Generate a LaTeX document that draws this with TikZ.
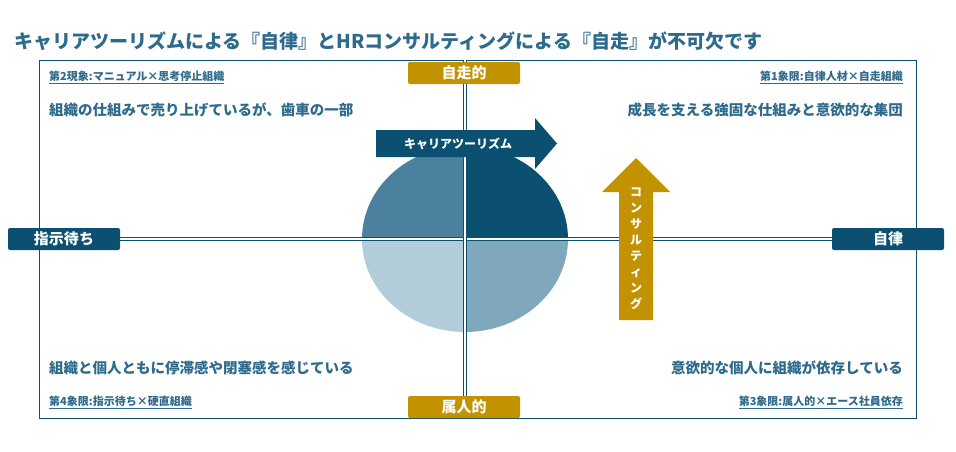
\documentclass[tikz,border=0pt]{standalone}
\usepackage{fontspec}
\setmainfont{Noto Sans CJK JP}
\newfontfamily\jpbold{Noto Sans CJK JP}[BoldFont=*, FakeBold=1.5]
\definecolor{navy}{HTML}{0B5070}
\definecolor{txtblue}{HTML}{2E6A8C}
\definecolor{gold}{HTML}{C39200}
\definecolor{qtl}{HTML}{4B819F}
\definecolor{qbl}{HTML}{B3CCD9}
\definecolor{qbr}{HTML}{7FA8BC}
\tikzset{
  axislabel/.style={rounded corners=2pt, minimum height=22pt, minimum width=112pt, text=white, font=\fontsize{15}{15}\selectfont\bfseries, inner sep=0pt},
  corner/.style={font=\fontsize{11}{11}\selectfont\bfseries, text=txtblue, inner sep=0pt},
  claim/.style={font=\fontsize{14.5}{14.5}\selectfont\bfseries, text=txtblue, inner sep=0pt},
}
\begin{document}
\begin{tikzpicture}[x=1pt,y=-1pt]
  \useasboundingbox (0,0) rectangle (956,451);
  % title
  \node[anchor=west, inner sep=0pt, text=txtblue, font=\fontsize{19}{19}\selectfont\bfseries] (title) at (14,41)
    {キャリアツーリズムによる『自律』とHRコンサルティングによる『自走』が不可欠です};
  % frame
  \draw[navy, line width=1pt] (39,60) rectangle (916,418);
  % ellipse quadrants
  \coordinate (c) at (465,239);
  \begin{scope}
    \clip (c) ellipse [x radius=103, y radius=93];
    \fill[qtl] (c) rectangle (360,140);
    \fill[navy] (c) rectangle (570,140);
    \fill[qbl] (c) rectangle (360,340);
    \fill[qbr] (c) rectangle (570,340);
  \end{scope}
  % axes (double lines)
  \draw[navy, line width=3.6pt] (39,239) -- (916,239);
  \draw[white, line width=1.6pt] (39,239) -- (916,239);
  \draw[navy, line width=3.6pt] (465,60) -- (465,418);
  \draw[white, line width=1.6pt] (465,60) -- (465,418);
  % axis labels
  \node[axislabel, fill=gold] (top) at (464,73) {自走的};
  \node[axislabel, fill=gold] (bottom) at (464,407) {属人的};
  \node[axislabel, fill=navy] (left) at (64,239) {指示待ち};
  \node[axislabel, fill=navy] (right) at (888,239) {自律};
  % career arrow
  \fill[navy] (376,130) -- (535,130) -- (535,118) -- (557,143.5) -- (535,169) -- (535,157) -- (376,157) -- cycle;
  \node[text=white, font=\fontsize{12}{12}\selectfont\bfseries] (career) at (458,143.5) {キャリアツーリズム};
  % consulting arrow
  \fill[gold] (619,320) -- (619,192) -- (602,192) -- (636,158) -- (670,192) -- (653,192) -- (653,320) -- cycle;
  \node[text=white, font=\fontsize{12}{16}\selectfont\bfseries, align=center] (consult) at (636,249)
    {コ\\ン\\サ\\ル\\テ\\ィ\\ン\\グ};
  % corner labels
  \node[corner, anchor=west] (q2) at (49,77) {\underline{第2現象:マニュアル×思考停止組織}};
  \node[corner, anchor=east] (q1) at (903,77) {\underline{第1象限:自律人材×自走組織}};
  \node[corner, anchor=west] (q4) at (49,402) {\underline{第4象限:指示待ち×硬直組織}};
  \node[corner, anchor=east] (q3) at (903,402) {\underline{第3象限:属人的×エース社員依存}};
  \node[claim, anchor=west] (c2) at (49,110) {組織の仕組みで売り上げているが、歯車の一部};
  \node[claim, anchor=east] (c1) at (903,110) {成長を支える強固な仕組みと意欲的な集団};
  \node[claim, anchor=west] (c4) at (49,368) {組織と個人ともに停滞感や閉塞感を感じている};
  \node[claim, anchor=east] (c3) at (903,368) {意欲的な個人に組織が依存している};
\end{tikzpicture}
\end{document}
